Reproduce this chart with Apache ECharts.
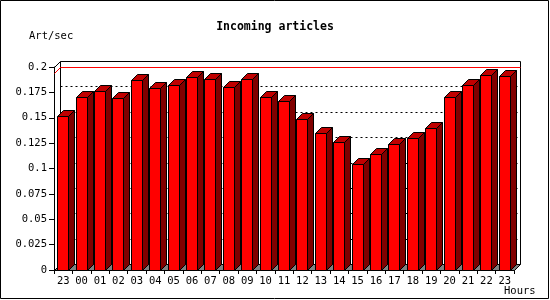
<!DOCTYPE html>
<html>
<head>
<meta charset="utf-8">
<script src="https://cdn.jsdelivr.net/npm/echarts@6/dist/echarts.min.js"></script>
<style>
html,body{margin:0;padding:0;background:#fff;}
#chart{width:550px;height:300px;}
</style>
</head>
<body>
<div id="chart"></div>
<script>
// ---- data ----
const hours = ['23','00','01','02','03','04','05','06','07','08','09','10','11','12','13','14','15','16','17','18','19','20','21','22','23'];
const artPerSec = [0.1515,0.1708,0.1761,0.1692,0.1869,0.1797,0.1820,0.1905,0.1885,0.1807,0.1885,0.1708,0.1662,0.1485,0.1354,0.1266,0.1049,0.1138,0.1239,0.1298,0.1397,0.1708,0.1826,0.1925,0.1915];
const maxLineValue = 0.194;
const yTickValues = [0,0.025,0.05,0.075,0.1,0.125,0.15,0.175,0.2];
const titleText = 'Incoming articles';
const yUnit = 'Art/sec';
const xUnit = 'Hours';

const FONT = '"DejaVu Sans Mono", monospace';
const D = 6; // 3D depth in px

const chart = echarts.init(document.getElementById('chart'), null, {renderer:'canvas'});

function crisp(v){ return Math.round(v) + 0.5; }

function renderFrame(params, api){
  const bw = api.size([1,0])[0];
  const n = hours.length;
  const leftX = crisp(api.coord([0,0])[0] - bw/2);
  const rightX = crisp(api.coord([n-1,0])[0] + bw/2);
  const y0 = crisp(api.coord([0,0])[1]);
  const yTop = crisp(api.coord([0,yTickValues[yTickValues.length-1]])[1]);
  const children = [];
  // floor
  children.push({type:'polygon', shape:{points:[[leftX,y0],[rightX,y0],[rightX+D,y0-D],[leftX+D,y0-D]]},
    style:{fill:'#808080', stroke:'#000', lineWidth:1}});
  // dotted gridlines on the back wall
  for (let i=1;i<yTickValues.length-1;i++){
    const y = crisp(api.coord([0,yTickValues[i]])[1]) - D;
    children.push({type:'line', shape:{x1:leftX+D, y1:y, x2:rightX+D, y2:y},
      style:{stroke:'#000', lineWidth:1, lineDash:[2,3]}});
  }
  // back wall frame
  children.push({type:'polyline', shape:{points:[[leftX+D,y0-D],[leftX+D,yTop-D],[rightX+D,yTop-D],[rightX+D,y0-D]]},
    style:{fill:null, stroke:'#000', lineWidth:1}});
  // left wall top diagonal
  children.push({type:'line', shape:{x1:leftX, y1:yTop, x2:leftX+D, y2:yTop-D}, style:{stroke:'#000', lineWidth:1}});
  // max line (red)
  const ym = crisp(api.coord([0,maxLineValue])[1]);
  children.push({type:'polyline', shape:{points:[[leftX,ym],[leftX+D,ym-D],[rightX+D,ym-D]]},
    style:{fill:null, stroke:'#ff0000', lineWidth:1}});
  return {type:'group', children};
}

function renderBar(params, api){
  const idx = api.value(0);
  const v = api.value(1);
  const c = api.coord([idx, v]);
  const b = api.coord([idx, 0]);
  const bw = api.size([1,0])[0];
  const x0 = crisp(c[0] - bw*0.33);
  const w = Math.round(bw*0.6);
  const x1 = x0 + w;
  const top = crisp(c[1]);
  const bot = crisp(b[1]);
  const st = {stroke:'#000', lineWidth:1};
  return {type:'group', children:[
    {type:'polygon', shape:{points:[[x1,top],[x1+D,top-D],[x1+D,bot-D],[x1,bot]]}, style:Object.assign({fill:'#800000'},st)},
    {type:'polygon', shape:{points:[[x0,top],[x0+D,top-D],[x1+D,top-D],[x1,top]]}, style:Object.assign({fill:'#c00000'},st)},
    {type:'rect', shape:{x:x0, y:top, width:w, height:bot-top}, style:Object.assign({fill:'#ff0000'},st)}
  ]};
}

const option = {
  animation:false,
  backgroundColor:'#fff',
  title:{text:titleText, left:'center', top:21, padding:0,
    textStyle:{fontFamily:FONT, fontWeight:'bold', fontSize:11.5, color:'#000'}},
  grid:{left:54, right:36, top:67, bottom:30},
  xAxis:{type:'category', data:hours,
    axisLine:{lineStyle:{color:'#000', width:1}},
    axisTick:{show:true, interval:0, length:4, lineStyle:{color:'#000'}},
    axisLabel:{interval:0, margin:6, fontFamily:FONT, fontSize:10.5, color:'#000'},
    splitLine:{show:false}},
  yAxis:{type:'value', min:0, max:0.2, interval:0.025,
    axisLine:{show:true, lineStyle:{color:'#000', width:1}},
    axisTick:{show:true, length:5, lineStyle:{color:'#000'}},
    axisLabel:{margin:7, fontFamily:FONT, fontSize:10.5, color:'#000'},
    splitLine:{show:false}},
  graphic:[
    {type:'rect', shape:{x:0.5, y:0.5, width:548, height:298}, style:{fill:null, stroke:'#000', lineWidth:1}, z:100},
    {type:'text', left:29, top:31, style:{text:yUnit, font:'10.5px ' + FONT, fill:'#000'}},
    {type:'text', left:504, top:286, style:{text:xUnit, font:'10.5px ' + FONT, fill:'#000'}}
  ],
  series:[
    {type:'custom', renderItem:renderFrame, data:[[0,0]], z:1, clip:false, silent:true},
    {type:'custom', renderItem:renderBar, data:artPerSec.map((v,i)=>[i,v]), z:2, clip:false, silent:true}
  ]
};
chart.setOption(option);
</script>
</body>
</html>
